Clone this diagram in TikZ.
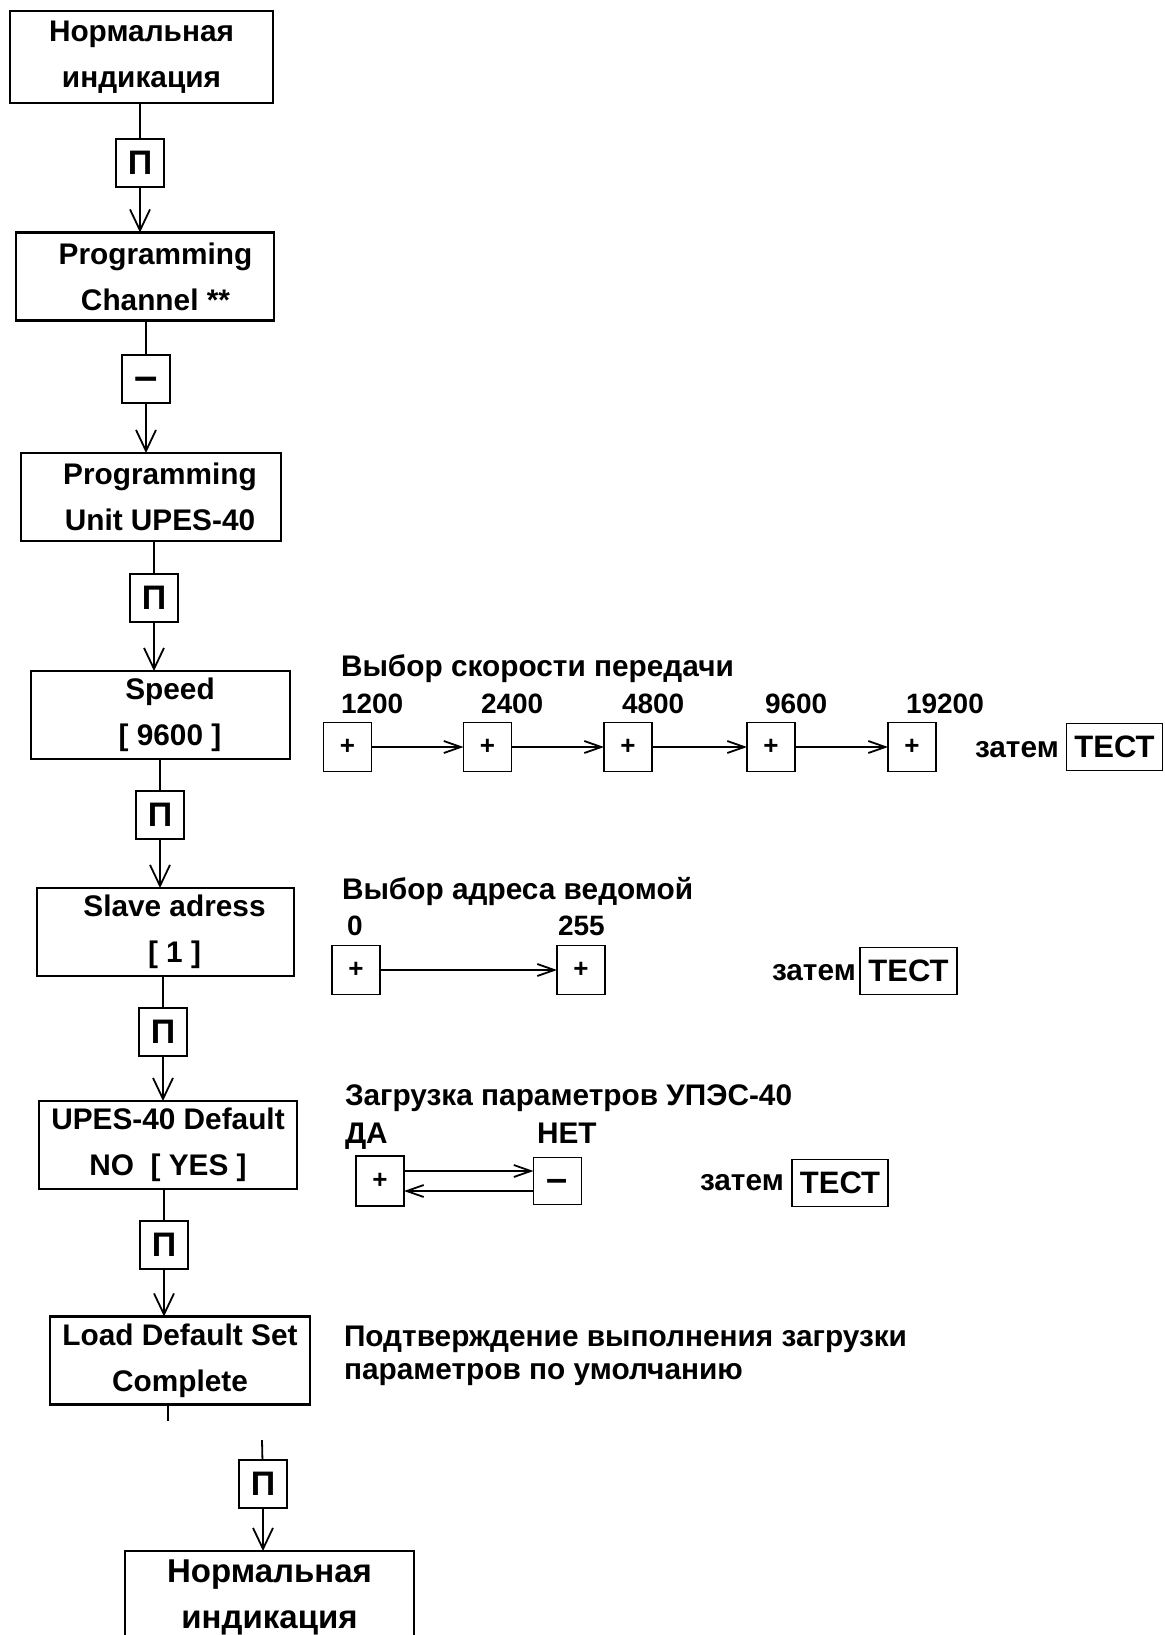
\documentclass[tikz,border=0pt]{standalone}
\usepackage{fontspec}
\setmainfont{Liberation Sans}
\usetikzlibrary{arrows.meta}
\begin{document}
\begin{tikzpicture}[x=0.5pt,y=-0.5pt,
  every node/.style={inner sep=0pt, outer sep=0pt, font=\bfseries\fontsize{14.9}{23}\selectfont},
  mainbox/.style={draw, line width=1.1pt, align=center, minimum height=44pt},
  keybox/.style={draw, line width=0.9pt, minimum width=24pt, minimum height=24pt, font=\bfseries\fontsize{17}{17}\selectfont},
  plusbox/.style={draw, line width=0.9pt, minimum width=24pt, minimum height=24.5pt, font=\bfseries\fontsize{13}{13}\selectfont},
  testbox/.style={draw, line width=0.9pt, minimum width=48pt, minimum height=23.5pt, font=\bfseries\fontsize{15.5}{15.5}\selectfont},
  lbl/.style={anchor=base west, font=\bfseries\fontsize{14.9}{16.5}\selectfont},
  num/.style={anchor=base west, font=\bfseries\fontsize{14}{14}\selectfont},
  link/.style={line width=0.9pt},
  varr/.style={line width=0.9pt, -{Straight Barb[length=10.5pt,width=10pt]}},
  harr/.style={line width=0.9pt, -{Straight Barb[length=8.5pt,width=6pt]}}
]
\useasboundingbox (0,0) rectangle (1165,1635);
\fill[white] (0,0) rectangle (1165,1635);
\clip (0,0) rectangle (1165,1635);

% main chain
\node[mainbox, minimum width=131.5pt, minimum height=46pt] (b1) at (141.5,57) {Нормальная\\индикация};
\node[keybox] (k1) at (140,163) {П};
\node[mainbox, minimum width=129pt] (b2) at (145,276.5) {\hspace*{10.5pt}Programming\\\hspace*{10.5pt}Channel **};
\node[keybox, font=\bfseries\fontsize{21}{21}\selectfont] (k2) at (146,379) {\smash{\raisebox{-0.27em}{–}}};
\node[mainbox, minimum width=130pt] (b3) at (151,497) {\hspace*{9pt}Programming\\\hspace*{9pt}Unit UPES-40};
\node[keybox] (k3) at (154,598) {П};
\node[mainbox, minimum width=129.5pt] (b4) at (160.5,715) {\hspace*{9.5pt}Speed\\\hspace*{9.5pt}{[} 9600 {]}};
\node[keybox] (k4) at (160,815) {П};
\node[mainbox, minimum width=128.5pt] (b5) at (165.5,932) {\hspace*{9pt}Slave adress\\\hspace*{9pt}{[} 1 {]}};
\node[keybox] (k5) at (163,1032) {П};
\node[mainbox, minimum width=129pt] (b6) at (168,1145) {UPES-40 Default\\NO\ \ {[} YES {]}};
\node[keybox] (k6) at (164,1245) {П};
\node[mainbox, minimum width=130pt] (b7) at (180,1360.5) {Load Default Set\\Complete};
\coordinate (c7a) at (168,1421);
\coordinate (c7b) at (262,1440);
\node[keybox] (k7) at (263,1484) {П};
\node[mainbox, minimum width=144.5pt, minimum height=46pt, font=\bfseries\fontsize{16.5}{23}\selectfont] (b8) at (269.5,1597) {Нормальная\\индикация};

\draw[link] (b1.south -| k1) -- (k1);
\draw[varr] (k1) -- (k1 |- b2.north);
\draw[link] (b2.south -| k2) -- (k2);
\draw[varr] (k2) -- (k2 |- b3.north);
\draw[link] (b3.south -| k3) -- (k3);
\draw[varr] (k3) -- (k3 |- b4.north);
\draw[link] (b4.south -| k4) -- (k4);
\draw[varr] (k4) -- (k4 |- b5.north);
\draw[link] (b5.south -| k5) -- (k5);
\draw[varr] (k5) -- (k5 |- b6.north);
\draw[link] (b6.south -| k6) -- (k6);
\draw[varr] (k6) -- (k6 |- b7.north);
\draw[link] (b7.south -| c7a) -- (c7a);
\draw[link] (c7b) -- (k7);
\draw[varr] (k7) -- (k7 |- b8.north);

% speed row
\node[lbl] (t1) at (341,676) {Выбор скорости передачи};
\node[num] (n1) at (341,713) {1200};
\node[num] (n2) at (481,713) {2400};
\node[num] (n3) at (622,713) {4800};
\node[num] (n4) at (765,713) {9600};
\node[num] (n5) at (906,713) {19200};
\node[plusbox] (s1) at (347.5,747) {+};
\node[plusbox] (s2) at (487.5,747) {+};
\node[plusbox] (s3) at (628,747) {+};
\node[plusbox] (s4) at (771,747) {+};
\node[plusbox] (s5) at (912,747) {+};
\node[lbl] (z1) at (975,757) {затем};
\node[testbox] (T1) at (1114.5,747) {ТЕСТ};
\draw[harr] (s1) -- (s2);
\draw[harr] (s2) -- (s3);
\draw[harr] (s3) -- (s4);
\draw[harr] (s4) -- (s5);

% slave row
\node[lbl] (t2) at (342,899) {Выбор адреса ведомой};
\node[num] (m1) at (347,935) {0};
\node[num] (m2) at (558,935) {255};
\node[plusbox] (a1) at (356,970) {+};
\node[plusbox] (a2) at (581,970) {+};
\node[lbl] (z2) at (772,980) {затем};
\node[testbox, minimum width=48.5pt] (T2) at (908.5,971) {ТЕСТ};
\draw[harr] (a1) -- (a2);

% default row
\node[lbl] (t3) at (345,1105) {Загрузка параметров УПЭС-40};
\node[lbl] (y1) at (345,1143) {ДА};
\node[lbl] (y2) at (537,1143) {НЕТ};
\node[plusbox, minimum height=25pt] (d1) at (380,1181) {+};
\node[plusbox, minimum height=23.5pt, font=\bfseries\fontsize{19}{19}\selectfont] (d2) at (557.5,1181) {\smash{\raisebox{-0.27em}{–}}};
\node[lbl] (z3) at (700,1190) {затем};
\node[testbox] (T3) at (840,1183) {ТЕСТ};
\draw[harr] ([yshift=5pt]d1.east) -- ([yshift=5pt]d2.west);
\draw[harr] ([yshift=-5pt]d2.west) -- ([yshift=-5pt]d1.east);

% confirmation
\node[lbl, align=left, anchor=west] (cf) at (344,1356) {Подтверждение выполнения загрузки\\параметров по умолчанию};
\end{tikzpicture}
\end{document}
